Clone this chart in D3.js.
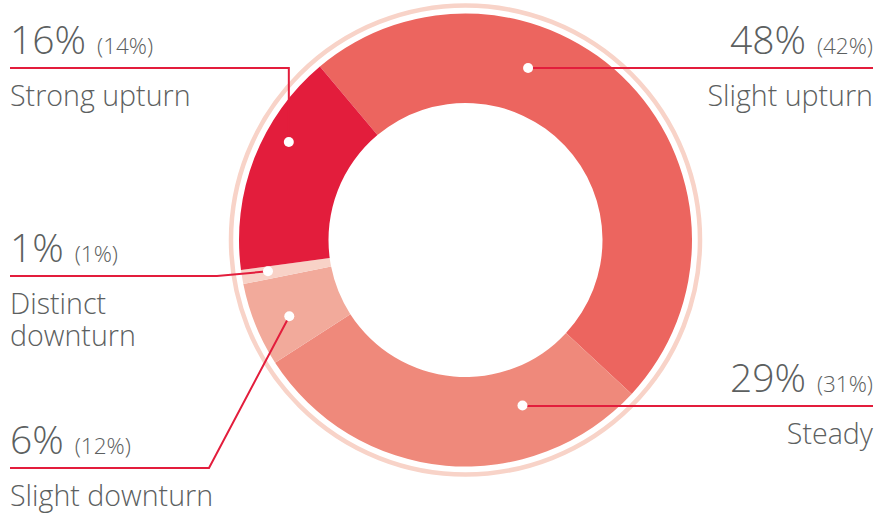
<!DOCTYPE html>
<html>
<head>
<meta charset="utf-8">
<script src="https://cdn.jsdelivr.net/npm/d3@7"></script>
<style>
    body { margin: 0; background: #fff; }
    svg { display: block; }
</style>
</head>
<body>
<div id="container"></div>
<script>
// chart data, clockwise from the top-left boundary
const categories = ["Slight upturn", "Steady", "Slight downturn", "Distinct downturn", "Strong upturn"];
const current = [48, 29, 6, 1, 16];
const previous = [42, 31, 12, 1, 14];
const colors = ["#EC655F", "#EF897B", "#F2AA9B", "#F8D2C7", "#E31D3C"];

// label layout (side, leader line y, where the dot sits on the slice)
const labelSide = ["right", "right", "left", "left", "left"];
const lineY = [68, 406, 468, 276, 68];
const dotAngle = [20, 161, 246.6, 261, 299];   // degrees, clockwise from north
const dotRadius = [183, 175, 192, 200, 202];
const elbowX = [null, null, 209, 217, null];

const width = 880;
const height = 517;
const cx = 465.5, cy = 240;
const outerR = 226.5, innerR = 137, ringR = 234.5;
const startAngle = -40 * Math.PI / 180;

const svg = d3.select("#container").append("svg")
    .attr("width", width)
    .attr("height", height);

const g = svg.append("g").attr("transform", `translate(${cx},${cy})`);

// pale outer ring
g.append("circle")
    .attr("r", ringR)
    .attr("fill", "none")
    .attr("stroke", "#F8D3C8")
    .attr("stroke-width", 4.5);

const pie = d3.pie()
    .sort(null)
    .value(d => d)
    .startAngle(startAngle)
    .endAngle(startAngle + 2 * Math.PI);

const arc = d3.arc().innerRadius(innerR).outerRadius(outerR);

g.selectAll("path.slice")
    .data(pie(current))
    .join("path")
    .attr("class", "slice")
    .attr("fill", (d, i) => colors[i])
    .attr("d", arc);

// leader lines
const dot = i => {
    const a = dotAngle[i] * Math.PI / 180;
    return [cx + dotRadius[i] * Math.sin(a), cy - dotRadius[i] * Math.cos(a)];
};

const lineColor = "#E31D3C";
const textColor = "#5c6060";
const font = "'Open Sans', 'Noto Sans', sans-serif";

categories.forEach((cat, i) => {
    const [dx, dy] = dot(i);
    const y = lineY[i];
    let pts;
    if (labelSide[i] == "right") {
        pts = [[873, y], [dx, y], [dx, dy]];
    } else if (elbowX[i] == null) {
        pts = [[10, y], [dx, y], [dx, dy]];
    } else {
        pts = [[10, y], [elbowX[i], y], [dx, dy]];
    }
    svg.append("path")
        .attr("d", d3.line()(pts))
        .attr("fill", "none")
        .attr("stroke", lineColor)
        .attr("stroke-width", 2);

    svg.append("circle")
        .attr("cx", dx).attr("cy", dy)
        .attr("r", 5)
        .attr("fill", "#fff");

    // numbers above the line
    const right = labelSide[i] == "right";
    const x = right ? 873 : 10;
    const num = svg.append("text")
        .attr("x", x)
        .attr("y", y - 14)
        .attr("text-anchor", right ? "end" : "start")
        .attr("font-family", font)
        .attr("font-weight", 300)
        .attr("fill", textColor);
    num.append("tspan")
        .attr("font-size", 39)
        .text(`${current[i]}%`);
    num.append("tspan")
        .attr("font-size", 22.5)
        .attr("dx", 11)
        .text(`(${previous[i]}%)`);

    // category name below the line
    const words = cat == "Distinct downturn" ? ["Distinct", "downturn"] : [cat];
    words.forEach((w, k) => {
        svg.append("text")
            .attr("x", x)
            .attr("y", y + 38 + k * 32)
            .attr("text-anchor", right ? "end" : "start")
            .attr("font-family", font)
            .attr("font-weight", 300)
            .attr("font-size", 28.6)
            .attr("fill", textColor)
            .text(w);
    });
});
</script>
</body>
</html>
